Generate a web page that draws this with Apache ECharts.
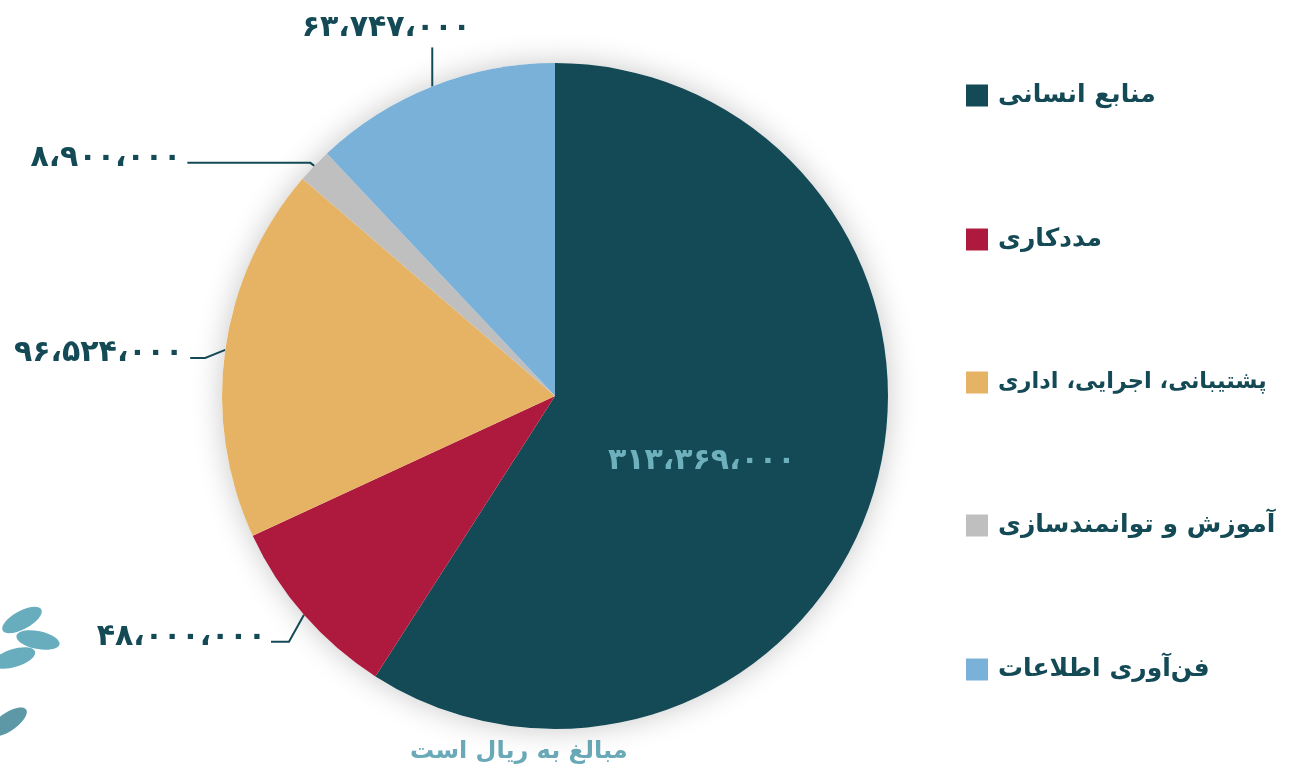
<!DOCTYPE html>
<html>
<head>
<meta charset="utf-8">
<script src="https://cdn.jsdelivr.net/npm/echarts@6/dist/echarts.min.js"></script>
<style>
  html, body { margin: 0; padding: 0; background: #fff; }
  #chart { width: 1306px; height: 769px; }
</style>
</head>
<body>
<div id="chart"></div>
<script>
  // data
  const categories = ['منابع انسانی', 'مددکاری', 'پشتیبانی، اجرایی، اداری', 'آموزش و توانمندسازی', 'فن‌آوری اطلاعات'];
  const values = [313369000, 48000000, 96524000, 8900000, 63747000];
  const colors = ['#134a56', '#ae1a3d', '#e5b363', '#bfbfbf', '#7ab1d8'];
  const footNote = 'مبالغ به ریال است';

  const faDigits = '۰۱۲۳۴۵۶۷۸۹';
  function toFa(n) {
    return n.toLocaleString('en-US').replace(/,/g, '،').replace(/\d/g, d => faDigits[d]);
  }

  const font = '"DejaVu Sans", sans-serif';
  const myChart = echarts.init(document.getElementById('chart'));

  // small leaf shapes for the logo corner
  const leaf = (x, y, rot, c) => ({
    type: 'ellipse', x: x, y: y, rotation: rot, silent: true,
    shape: {cx: 0, cy: 0, rx: 22, ry: 9}, style: {fill: c, opacity: 0.85}
  });

  myChart.setOption({
    animation: false,
    color: colors,
    legend: {
      orient: 'vertical',
      left: 961,
      top: 78,
      itemWidth: 22,
      itemHeight: 22,
      itemGap: 119,
      icon: 'rect',
      textStyle: {color: '#134a56', fontSize: 25, fontWeight: 'bold', fontFamily: font, padding: [0, 0, 0, 5]},
      // the longest name is set a bit smaller so it fits the page
      data: categories.map(c => c.length > 20 ? {name: c, textStyle: {fontSize: 22.5}} : c)
    },
    graphic: [
      {
        type: 'text',
        left: 410,
        top: 740,
        style: {text: footNote, fill: '#6aaab8', fontSize: 24, fontWeight: 'bold', fontFamily: font}
      },
      leaf(22, 620, 0.5, '#4e9fb3'),
      leaf(38, 640, -0.2, '#4e9fb3'),
      leaf(14, 658, 0.3, '#4e9fb3'),
      leaf(8, 722, 0.6, '#3f8696')
    ],
    series: [
      {
        // backdrop disc that carries the soft shadow
        type: 'pie',
        silent: true,
        center: [555, 396],
        radius: 333,
        z: 1,
        label: {show: false},
        labelLine: {show: false},
        itemStyle: {color: '#fff', shadowBlur: 30, shadowColor: 'rgba(0,0,0,0.22)'},
        data: [{value: 1, name: ''}]
      },
      {
        type: 'pie',
        center: [555, 396],
        radius: 333,
        startAngle: 90,
        clockwise: true,
        z: 2,
        label: {
          show: true,
          position: 'outside',
          formatter: p => toFa(p.value),
          color: '#134a56',
          fontSize: 30,
          fontWeight: 'bold',
          fontFamily: font
        },
        labelLine: {show: true, length: 20, length2: 15, lineStyle: {color: '#134a56', width: 2}},
        labelLayout: function (params) {
          const i = params.dataIndex;
          const p = params.labelLinePoints;
          if (!p) return {};
          const e = p[0];
          if (i === 1) {
            return {x: e[0] - 38, y: e[1] + 22, align: 'right', verticalAlign: 'middle',
              labelLinePoints: [e, [e[0] - 15, e[1] + 27], [e[0] - 33, e[1] + 27]]};
          }
          if (i === 2) {
            return {x: e[0] - 42, y: e[1] + 3, align: 'right', verticalAlign: 'middle',
              labelLinePoints: [e, [e[0] - 20, e[1] + 8], [e[0] - 35, e[1] + 8]]};
          }
          if (i === 3) {
            return {x: e[0] - 133, y: e[1] - 8, align: 'right', verticalAlign: 'middle',
              labelLinePoints: [e, [e[0] - 4, e[1] - 3], [e[0] - 127, e[1] - 3]]};
          }
          if (i === 4) {
            return {x: e[0] - 46, y: e[1] - 58, align: 'center', verticalAlign: 'middle',
              labelLinePoints: [e, [e[0], e[1] - 20], [e[0], e[1] - 39]]};
          }
          return {};
        },
        data: categories.map((c, i) => ({
          name: c,
          value: values[i],
          label: i === 0 ? {position: 'inside', color: '#6fb0bd', fontSize: 30, offset: [-16, 18]} : undefined,
          labelLine: i === 0 ? {show: false} : undefined
        }))
      }
    ]
  });
</script>
</body>
</html>
